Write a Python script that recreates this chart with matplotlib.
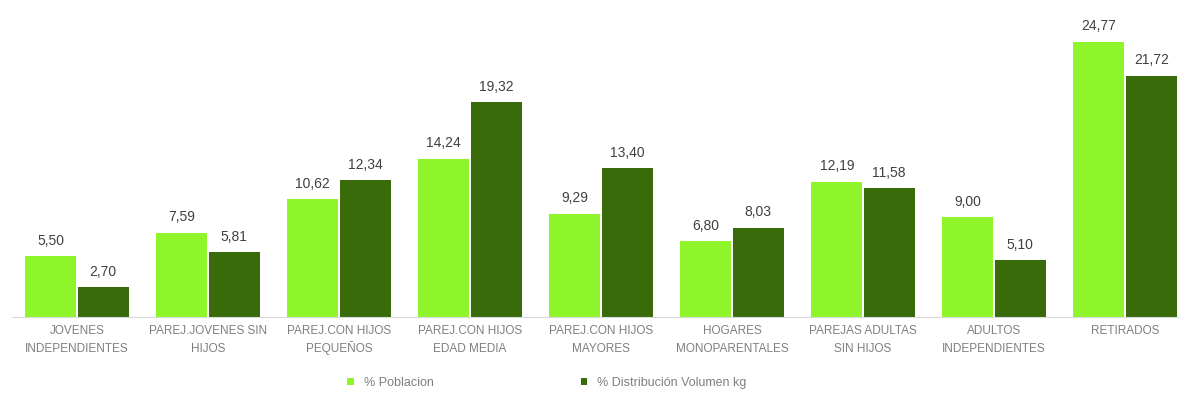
import matplotlib.pyplot as plt
import matplotlib.transforms as mtransforms
import numpy as np

categorias = [("JOVENES", "INDEPENDIENTES"), ("PAREJ.JOVENES SIN", "HIJOS"), ("PAREJ.CON HIJOS", "PEQUEÑOS"),
              ("PAREJ.CON HIJOS", "EDAD MEDIA"), ("PAREJ.CON HIJOS", "MAYORES"), ("HOGARES", "MONOPARENTALES"),
              ("PAREJAS ADULTAS", "SIN HIJOS"), ("ADULTOS", "INDEPENDIENTES"), ("RETIRADOS", "")]
poblacion = [5.50, 7.59, 10.62, 14.24, 9.29, 6.80, 12.19, 9.00, 24.77]
volumen = [2.70, 5.81, 12.34, 19.32, 13.40, 8.03, 11.58, 5.10, 21.72]

plt.rcParams['font.family'] = ['Liberation Sans', 'DejaVu Sans']

fig = plt.figure(figsize=(11.79, 3.94), dpi=100)
ax = fig.add_axes([11.5 / 1179, 77 / 394, 1.0, 300 / 394])

x = np.arange(len(categorias))
w = 0.39
b1 = ax.bar(x - 0.2, poblacion, w, color='#8ef52a', label='% Poblacion')
b2 = ax.bar(x + 0.2, volumen, w, color='#3a6b0a', label='% Distribución Volumen kg')

for bars in (b1, b2):
    for r in bars:
        v = r.get_height()
        ax.text(r.get_x() + r.get_width() / 2, v + 0.75, f"{v:.2f}".replace('.', ','),
                ha='center', va='bottom', fontsize=10, color='#404040', clip_on=False)

# category labels, two lines each on fixed baselines (so Ñ doesn't shift a line)
trans = mtransforms.blended_transform_factory(ax.transData, fig.transFigure)
for i, (l1, l2) in enumerate(categorias):
    ax.text(i, 1 - 334 / 394, l1, transform=trans, ha='center', va='baseline',
            fontsize=8.5, color='#7f7f7f')
    ax.text(i, 1 - 352 / 394, l2, transform=trans, ha='center', va='baseline',
            fontsize=8.5, color='#7f7f7f')

ax.set_xlim(-0.5, 8.5)
ax.set_ylim(0, 27)
ax.set_yticks([])
ax.set_xticks([])
for s in ['top', 'right', 'left']:
    ax.spines[s].set_visible(False)
ax.spines['bottom'].set_color('#d9d9d9')

fig.legend(handles=[b1, b2], loc='center left', bbox_to_anchor=(336 / 1179, 11 / 394), ncol=2,
           frameon=False, fontsize=9, handlelength=0.5, handleheight=0.5,
           columnspacing=11.8, handletextpad=0.8, labelcolor='#7f7f7f')

fig.savefig('out.png', dpi=100)
